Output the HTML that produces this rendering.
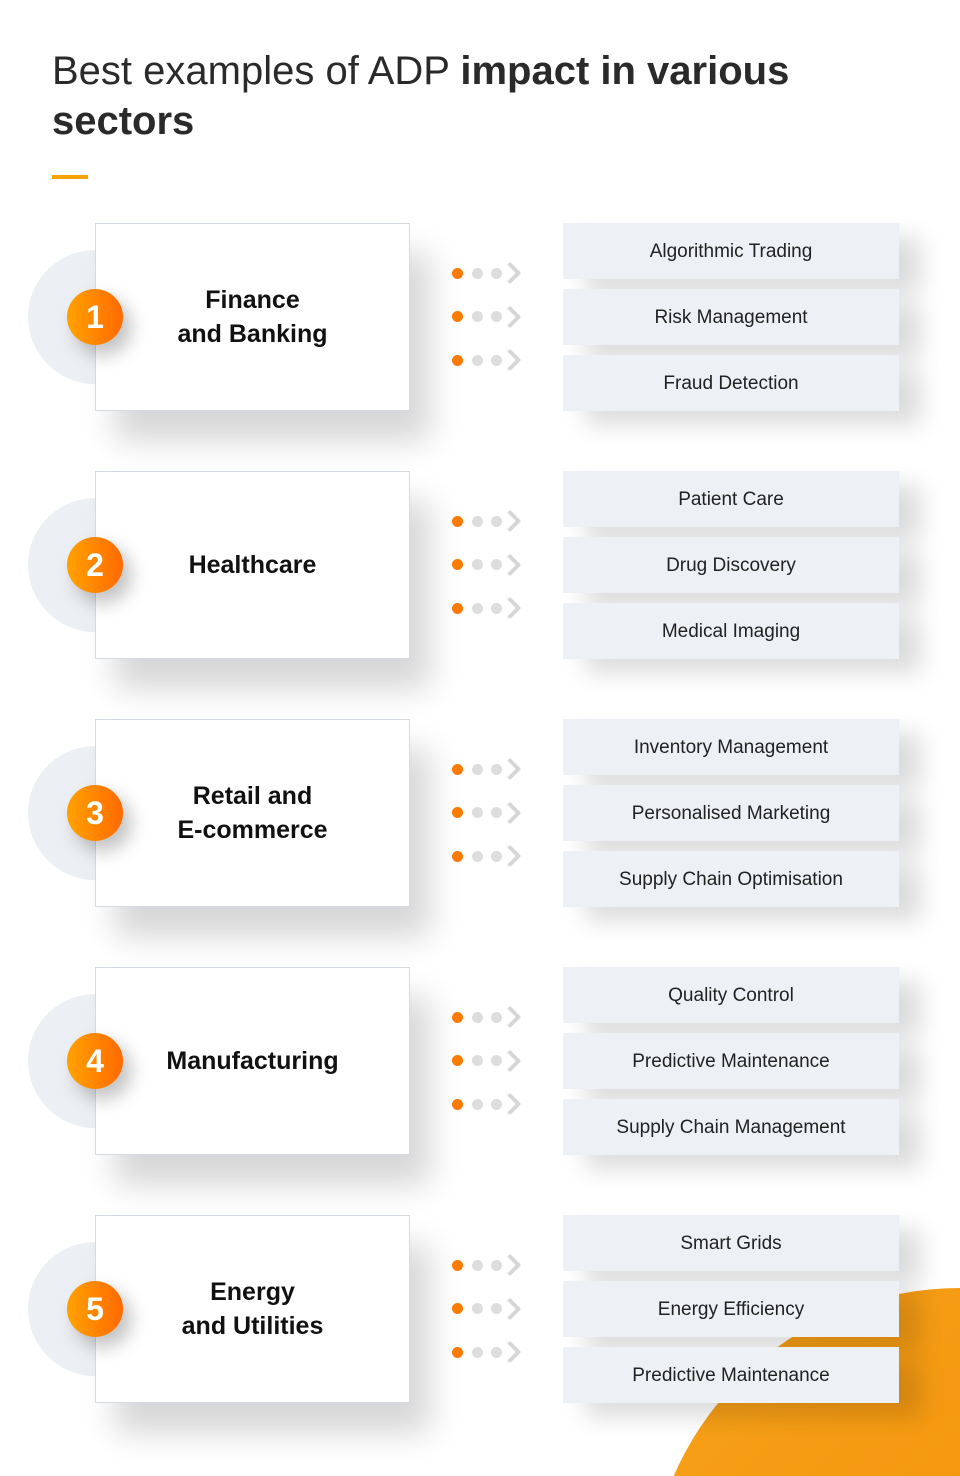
<!DOCTYPE html>
<html><head><meta charset="utf-8"><style>
*{margin:0;padding:0;box-sizing:border-box}
html,body{width:960px;height:1476px;overflow:hidden}
body{background:#fff;font-family:"Liberation Sans",sans-serif}
#wrap{position:relative;width:960px;height:1476px;overflow:hidden}
.blob{position:absolute;left:640px;top:1280px;width:320px;height:196px}
h1{position:absolute;left:52px;top:46px;font-size:40px;line-height:50px;color:#2a2a2a;font-weight:300;width:860px}
h1 b{font-weight:700}
.bar{position:absolute;left:52px;top:175px;width:36px;height:4px;background:#f7a300}
.bg{position:absolute;width:134px;height:134px;border-radius:50%;background:#eceff3}
.box{position:absolute;width:315px;height:188px;background:#fff;border:1px solid #d3dae3;box-shadow:20px 30px 30px rgba(0,0,0,0.16);display:flex;align-items:center;justify-content:center;text-align:center;font-weight:700;font-size:25px;line-height:34px;color:#111}
.badge{position:absolute;width:56px;height:56px;border-radius:50%;background:linear-gradient(90deg,#ffa200,#ff6a00);color:#fff;font-weight:700;font-size:32px;line-height:56px;text-align:center;box-shadow:8px 10px 18px rgba(0,0,0,0.25)}
.item{position:absolute;left:563px;width:336px;height:56px;background:#edf0f4;font-size:19px;line-height:58px;text-align:center;color:#222;box-shadow:22px 14px 24px rgba(0,0,0,0.14)}
.dot{position:absolute;width:11px;height:11px;border-radius:50%}
.o{background:#ff7a00}.g{background:#ddd}
.chev{position:absolute;width:16px;height:16px;border-right:4px solid #d6d6d6;border-top:4px solid #d6d6d6;transform:rotate(45deg);border-radius:2px}
</style></head><body><div id="wrap">
<svg class="blob" width="320" height="196" viewBox="640 1280 320 196"><defs><linearGradient id="gr" x1="0" y1="0" x2="1" y2="1"><stop offset="0" stop-color="#f7a21a"/><stop offset="1" stop-color="#f08a00"/></linearGradient></defs><circle cx="960" cy="1600" r="312" fill="url(#gr)"/></svg>
<h1>Best examples of ADP <b>impact in various sectors</b></h1>
<div class="bar"></div>

<div class="bg" style="left:28px;top:250px"></div>
<div class="box" style="left:95px;top:223px">Finance<br>and Banking</div>
<div class="badge" style="left:67px;top:289px">1</div>
<div class="item" style="top:223px">Algorithmic Trading</div>
<div class="item" style="top:289px">Risk Management</div>
<div class="item" style="top:355px">Fraud Detection</div>

<div class="bg" style="left:28px;top:498px"></div>
<div class="box" style="left:95px;top:471px">Healthcare</div>
<div class="badge" style="left:67px;top:537px">2</div>
<div class="item" style="top:471px">Patient Care</div>
<div class="item" style="top:537px">Drug Discovery</div>
<div class="item" style="top:603px">Medical Imaging</div>

<div class="bg" style="left:28px;top:746px"></div>
<div class="box" style="left:95px;top:719px">Retail and<br>E-commerce</div>
<div class="badge" style="left:67px;top:785px">3</div>
<div class="item" style="top:719px">Inventory Management</div>
<div class="item" style="top:785px">Personalised Marketing</div>
<div class="item" style="top:851px">Supply Chain Optimisation</div>

<div class="bg" style="left:28px;top:994px"></div>
<div class="box" style="left:95px;top:967px">Manufacturing</div>
<div class="badge" style="left:67px;top:1033px">4</div>
<div class="item" style="top:967px">Quality Control</div>
<div class="item" style="top:1033px">Predictive Maintenance</div>
<div class="item" style="top:1099px">Supply Chain Management</div>

<div class="bg" style="left:28px;top:1242px"></div>
<div class="box" style="left:95px;top:1215px">Energy<br>and Utilities</div>
<div class="badge" style="left:67px;top:1281px">5</div>
<div class="item" style="top:1215px">Smart Grids</div>
<div class="item" style="top:1281px">Energy Efficiency</div>
<div class="item" style="top:1347px">Predictive Maintenance</div>

<div id="arrows"></div>
</div>
<script>
var h='';
for(var s=0;s<5;s++){for(var r=0;r<3;r++){var y=273+248*s+r*43.5;
h+='<div class="dot o" style="left:452px;top:'+(y-5.5)+'px"></div>';
h+='<div class="dot g" style="left:472px;top:'+(y-5.5)+'px"></div>';
h+='<div class="dot g" style="left:491px;top:'+(y-5.5)+'px"></div>';
h+='<div class="chev" style="left:502px;top:'+(y-8)+'px"></div>';}}
document.getElementById('arrows').innerHTML=h;
</script>
</body></html>
